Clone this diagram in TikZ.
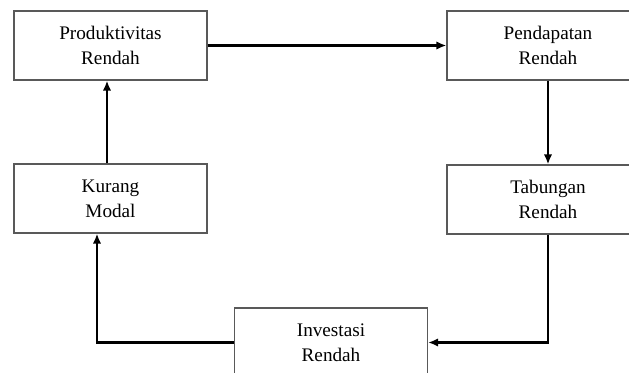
\documentclass[tikz,border=0pt]{standalone}
\usepackage{fontspec}
\setmainfont{Liberation Serif}
\usetikzlibrary{arrows.meta, positioning, calc}
\tikzset{
  cycle box/.style={
    rectangle, draw=black!65, line width=0.6pt, fill=white,
    minimum width=96.5pt, minimum height=34.5pt,
    text centered, font=\fontsize{9.6}{12.5}\selectfont,
    inner sep=2pt
  },
  cycle box wide/.style={
    cycle box, minimum width=101pt
  },
  cycle arrow/.style={
    -{Latex[length=5pt,width=4.2pt]}, line width=1.25pt, draw=black
  }
}

\begin{document}
\begin{tikzpicture}[x=0.5pt, y=-0.5pt, align=center]
  \useasboundingbox (0,0) rectangle (629,373);
  \clip (0,0) rectangle (629,373);

  \node (prod) [cycle box] at (110.5,45.5) {Produktivitas\\Rendah};
  \node (pend) [cycle box wide] at (548,45.5) {Pendapatan\\Rendah};
  \node (tab) [cycle box wide] at (548,199.5) {Tabungan\\Rendah};
  \node (kur) [cycle box] at (110.5,198.5) {Kurang\\Modal};
  \node (inv) [cycle box] at (331,342.5) {Investasi\\Rendah};

  \coordinate (kur in) at ([xshift=-6.75pt]kur.south);
  \coordinate (kur out) at ([xshift=-1.75pt]kur.north);
  \coordinate (prod in) at ([xshift=-1.75pt]prod.south);

  \draw [cycle arrow] (prod) -- (pend);
  \draw [cycle arrow] (pend) -- (tab);
  \draw [cycle arrow] (tab.south) |- (inv.east);
  \draw [cycle arrow] (inv.west) -| (kur in);
  \draw [cycle arrow] (kur out) -- (prod in);
\end{tikzpicture}
\end{document}
